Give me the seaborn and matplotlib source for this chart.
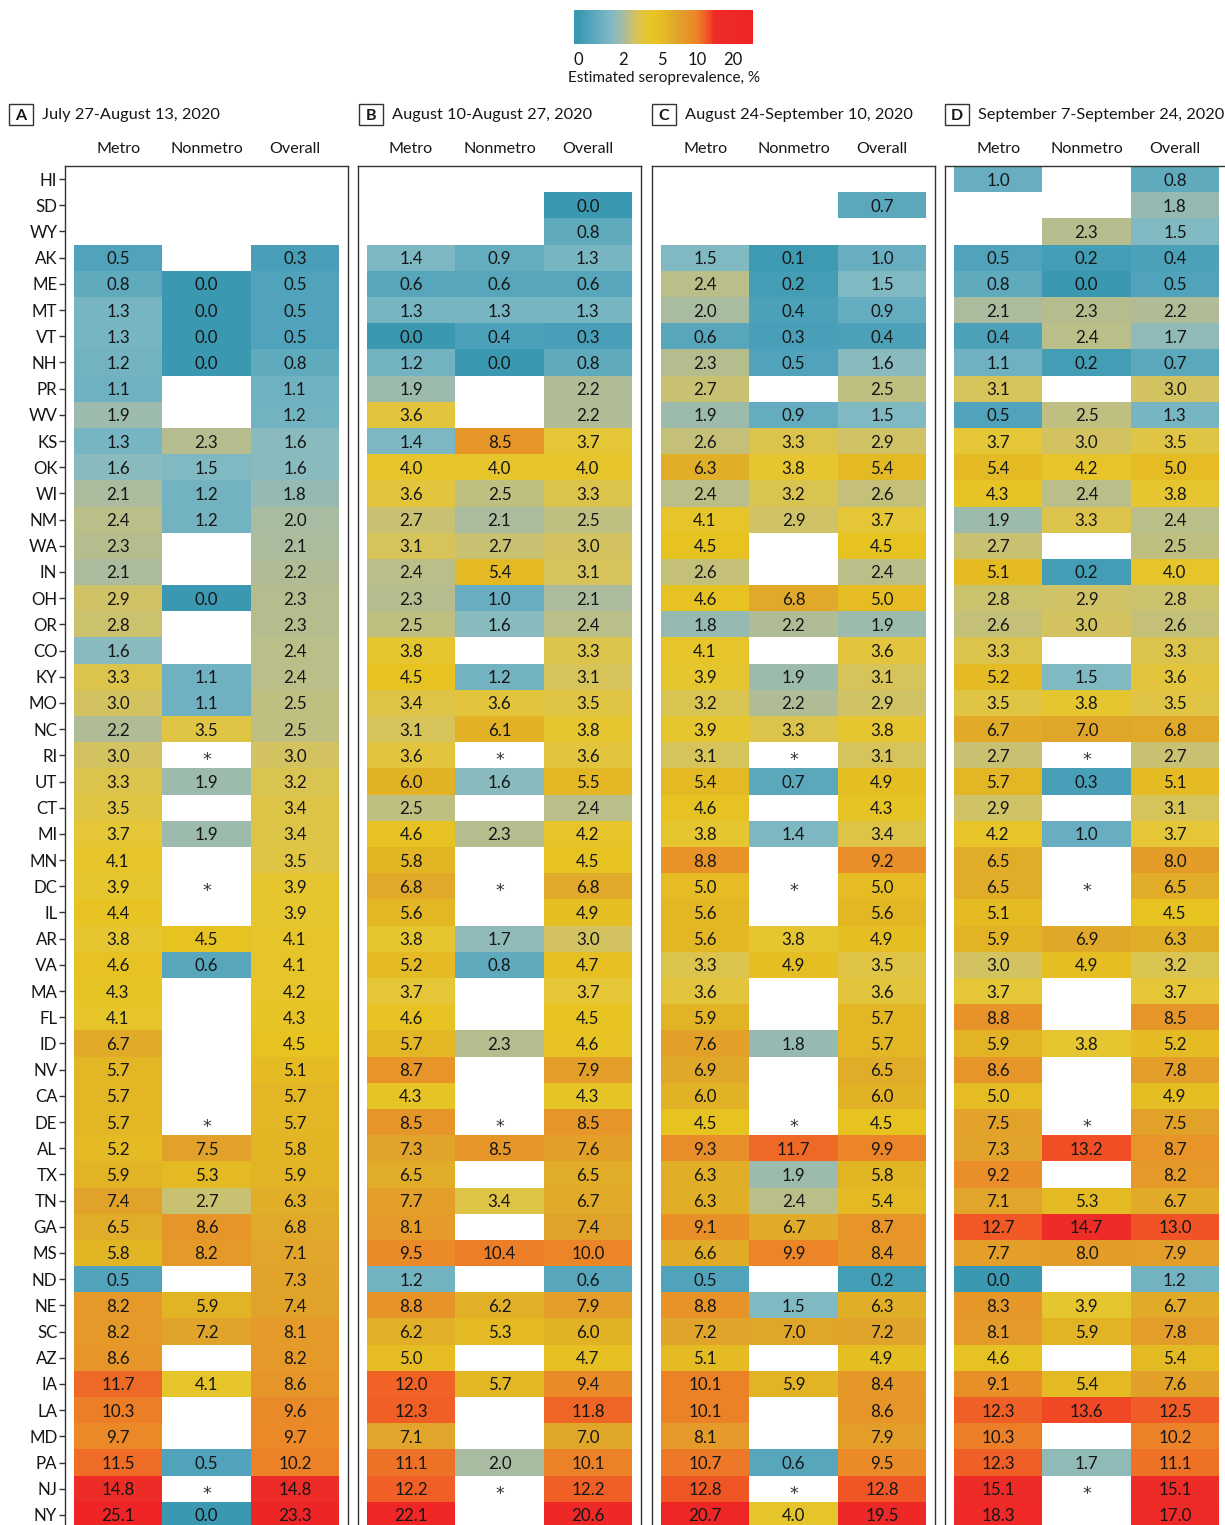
import numpy as np
import pandas as pd
import matplotlib
matplotlib.use("Agg")
import matplotlib.pyplot as plt
import seaborn as sns
from matplotlib.colors import LinearSegmentedColormap, FuncNorm
from matplotlib.patches import Rectangle
from matplotlib.cm import ScalarMappable

N = None
states = ["HI","SD","WY","AK","ME","MT","VT","NH","PR","WV","KS","OK","WI","NM","WA","IN","OH","OR","CO","KY",
          "MO","NC","RI","UT","CT","MI","MN","DC","IL","AR","VA","MA","FL","ID","NV","CA","DE","AL","TX","TN",
          "GA","MS","ND","NE","SC","AZ","IA","LA","MD","PA","NJ","NY"]
columns = ["Metro", "Nonmetro", "Overall"]

a_metro = [N,N,N,0.5,0.8,1.3,1.3,1.2,1.1,1.9,1.3,1.6,2.1,2.4,2.3,2.1,2.9,2.8,1.6,3.3,3.0,2.2,3.0,3.3,3.5,3.7,4.1,3.9,4.4,3.8,4.6,4.3,4.1,6.7,5.7,5.7,5.7,5.2,5.9,7.4,6.5,5.8,0.5,8.2,8.2,8.6,11.7,10.3,9.7,11.5,14.8,25.1]
a_nonmetro = [N,N,N,N,0.0,0.0,0.0,0.0,N,N,2.3,1.5,1.2,1.2,N,N,0.0,N,N,1.1,1.1,3.5,N,1.9,N,1.9,N,N,N,4.5,0.6,N,N,N,N,N,N,7.5,5.3,2.7,8.6,8.2,N,5.9,7.2,N,4.1,N,N,0.5,N,0.0]
a_overall = [N,N,N,0.3,0.5,0.5,0.5,0.8,1.1,1.2,1.6,1.6,1.8,2.0,2.1,2.2,2.3,2.3,2.4,2.4,2.5,2.5,3.0,3.2,3.4,3.4,3.5,3.9,3.9,4.1,4.1,4.2,4.3,4.5,5.1,5.7,5.7,5.8,5.9,6.3,6.8,7.1,7.3,7.4,8.1,8.2,8.6,9.6,9.7,10.2,14.8,23.3]

b_metro = [N,N,N,1.4,0.6,1.3,0.0,1.2,1.9,3.6,1.4,4.0,3.6,2.7,3.1,2.4,2.3,2.5,3.8,4.5,3.4,3.1,3.6,6.0,2.5,4.6,5.8,6.8,5.6,3.8,5.2,3.7,4.6,5.7,8.7,4.3,8.5,7.3,6.5,7.7,8.1,9.5,1.2,8.8,6.2,5.0,12.0,12.3,7.1,11.1,12.2,22.1]
b_nonmetro = [N,N,N,0.9,0.6,1.3,0.4,0.0,N,N,8.5,4.0,2.5,2.1,2.7,5.4,1.0,1.6,N,1.2,3.6,6.1,N,1.6,N,2.3,N,N,N,1.7,0.8,N,N,2.3,N,N,N,8.5,N,3.4,N,10.4,N,6.2,5.3,N,5.7,N,N,2.0,N,N]
b_overall = [N,0.0,0.8,1.3,0.6,1.3,0.3,0.8,2.2,2.2,3.7,4.0,3.3,2.5,3.0,3.1,2.1,2.4,3.3,3.1,3.5,3.8,3.6,5.5,2.4,4.2,4.5,6.8,4.9,3.0,4.7,3.7,4.5,4.6,7.9,4.3,8.5,7.6,6.5,6.7,7.4,10.0,0.6,7.9,6.0,4.7,9.4,11.8,7.0,10.1,12.2,20.6]

c_metro = [N,N,N,1.5,2.4,2.0,0.6,2.3,2.7,1.9,2.6,6.3,2.4,4.1,4.5,2.6,4.6,1.8,4.1,3.9,3.2,3.9,3.1,5.4,4.6,3.8,8.8,5.0,5.6,5.6,3.3,3.6,5.9,7.6,6.9,6.0,4.5,9.3,6.3,6.3,9.1,6.6,0.5,8.8,7.2,5.1,10.1,10.1,8.1,10.7,12.8,20.7]
c_nonmetro = [N,N,N,0.1,0.2,0.4,0.3,0.5,N,0.9,3.3,3.8,3.2,2.9,N,N,6.8,2.2,N,1.9,2.2,3.3,N,0.7,N,1.4,N,N,N,3.8,4.9,N,N,1.8,N,N,N,11.7,1.9,2.4,6.7,9.9,N,1.5,7.0,N,5.9,N,N,0.6,N,4.0]
c_overall = [N,0.7,N,1.0,1.5,0.9,0.4,1.6,2.5,1.5,2.9,5.4,2.6,3.7,4.5,2.4,5.0,1.9,3.6,3.1,2.9,3.8,3.1,4.9,4.3,3.4,9.2,5.0,5.6,4.9,3.5,3.6,5.7,5.7,6.5,6.0,4.5,9.9,5.8,5.4,8.7,8.4,0.2,6.3,7.2,4.9,8.4,8.6,7.9,9.5,12.8,19.5]

d_metro = [1.0,N,N,0.5,0.8,2.1,0.4,1.1,3.1,0.5,3.7,5.4,4.3,1.9,2.7,5.1,2.8,2.6,3.3,5.2,3.5,6.7,2.7,5.7,2.9,4.2,6.5,6.5,5.1,5.9,3.0,3.7,8.8,5.9,8.6,5.0,7.5,7.3,9.2,7.1,12.7,7.7,0.0,8.3,8.1,4.6,9.1,12.3,10.3,12.3,15.1,18.3]
d_nonmetro = [N,N,2.3,0.2,0.0,2.3,2.4,0.2,N,2.5,3.0,4.2,2.4,3.3,N,0.2,2.9,3.0,N,1.5,3.8,7.0,N,0.3,N,1.0,N,N,N,6.9,4.9,N,N,3.8,N,N,N,13.2,N,5.3,14.7,8.0,N,3.9,5.9,N,5.4,13.6,N,1.7,N,N]
d_overall = [0.8,1.8,1.5,0.4,0.5,2.2,1.7,0.7,3.0,1.3,3.5,5.0,3.8,2.4,2.5,4.0,2.8,2.6,3.3,3.6,3.5,6.8,2.7,5.1,3.1,3.7,8.0,6.5,4.5,6.3,3.2,3.7,8.5,5.2,7.8,4.9,7.5,8.7,8.2,6.7,13.0,7.9,1.2,6.7,7.8,5.4,7.6,12.5,10.2,11.1,15.1,17.0]

star_states = ["RI", "DC", "DE", "NJ"]   # Nonmetro cells shown as "*"
panel_letters = ["A", "B", "C", "D"]
panel_titles = ["July 27-August 13, 2020", "August 10-August 27, 2020",
                "August 24-September 10, 2020", "September 7-September 24, 2020"]
cbar_ticks = [0, 2, 5, 10, 20]
cbar_label = "Estimated seroprevalence, %"

panels = [(a_metro, a_nonmetro, a_overall), (b_metro, b_nonmetro, b_overall),
          (c_metro, c_nonmetro, c_overall), (d_metro, d_nonmetro, d_overall)]
for p in panels:
    for col in p:
        assert len(col) == len(states), len(col)

# ---- colour scale (non-linear, like the reference colour bar) ----
scale_v = np.array([-0.4, 0, 2, 5, 10, 20, 25.1])
scale_p = np.array([0, 4, 49, 88, 123, 159, 179]) / 179.0

def fwd(v):
    return np.interp(np.asarray(v, dtype=float), scale_v, scale_p)

def inv(p):
    return np.interp(np.asarray(p, dtype=float), scale_p, scale_v)

norm = FuncNorm((fwd, inv), vmin=-0.4, vmax=25.1)
stops = [(-0.4, "#3a98b1"), (0.0, "#3a98b1"), (0.5, "#52a4bb"), (1.0, "#6aafc0"), (1.5, "#82b9c3"),
         (1.9, "#9ebbac"), (2.3, "#b6bd8e"), (2.8, "#cdc26c"), (3.3, "#dcc44c"), (3.8, "#e6c630"),
         (4.5, "#e7c322"), (5.5, "#e3b824"), (7.0, "#e0a62a"), (8.5, "#e69628"), (10.0, "#ec8428"),
         (11.5, "#ef6c26"), (12.5, "#f05c25"), (13.6, "#f04a25"), (14.8, "#ee2c27"), (25.1, "#ee2426")]
cmap = LinearSegmentedColormap.from_list("sero", [(float(fwd(v)), c) for v, c in stops])

# ---- figure ----
sns.set_theme(style="white")
plt.rcParams["font.family"] = ["Lato", "DejaVu Sans"]
TXT = "#161616"
W, H = 1225, 1525
fig = plt.figure(figsize=(W / 100, H / 100), dpi=100)

def fx(x):
    return x / W

def fy(y):
    return 1 - y / H

ax_left = [65, 358, 652, 945]
ax_w = 283
ax_top, ax_bot = 166, 1528
box_left = [9, 359, 652, 945]

for i, (m, n, o) in enumerate(panels):
    ax = fig.add_axes([fx(ax_left[i]), fy(ax_bot), ax_w / W, (ax_bot - ax_top) / H])
    df = pd.DataFrame({"Metro": m, "Nonmetro": n, "Overall": o}, index=states).astype(float)
    sns.heatmap(df, ax=ax, cmap=cmap, norm=norm, cbar=False, annot=True, fmt=".1f",
                annot_kws=dict(color=TXT, fontsize=12.2, va="center_baseline"),
                xticklabels=True, yticklabels=(i == 0))
    for s in star_states:
        r = states.index(s)
        ax.text(1.5, r + 0.88, "*", ha="center", va="baseline", fontsize=12.5,
                family="DejaVu Sans", color="#333333")
    ax.set_xlim(-0.1, 3.1)
    ax.set_ylim(len(states), 0)
    for sp in ax.spines.values():
        sp.set_visible(True)
        sp.set_color("#333333")
        sp.set_linewidth(1.0)
    ax.xaxis.set_ticks_position("top")
    ax.tick_params(axis="x", length=0, pad=7, labelsize=11.6, labelcolor=TXT,
                   labeltop=True, labelbottom=False)
    plt.setp(ax.get_xticklabels(), rotation=0)
    if i == 0:
        ax.tick_params(axis="y", left=True, length=4.5, width=1, color="#333333", pad=1,
                       labelsize=12.2, labelcolor=TXT)
        plt.setp(ax.get_yticklabels(), rotation=0, va="center_baseline")
    else:
        ax.tick_params(axis="y", left=False, labelleft=False)
    ax.set_xlabel("")
    ax.set_ylabel("")

    # panel letter box and title
    bx = box_left[i]
    fig.patches.append(Rectangle((fx(bx), fy(125)), 24 / W, 21 / H, transform=fig.transFigure,
                                 fill=False, edgecolor="#333333", linewidth=1.0))
    fig.text(fx(bx + 12), fy(114.5), panel_letters[i], ha="center", va="center_baseline",
             fontsize=11.5, fontweight="bold", color=TXT)
    fig.text(fx(bx + 33), fy(113), panel_titles[i], ha="left", va="center_baseline",
             fontsize=11.8, color=TXT)

# ---- colour bar ----
cax = fig.add_axes([fx(574), fy(44), 179 / W, 34 / H])
sm = ScalarMappable(norm=norm, cmap=cmap)
cb = fig.colorbar(sm, cax=cax, orientation="horizontal", ticks=cbar_ticks)
cb.outline.set_visible(False)
cb.minorticks_off()
cax.tick_params(axis="x", direction="in", length=4, width=1, color="white", top=True, bottom=True,
                labelsize=12, labelcolor=TXT, pad=6)
cb.set_ticklabels([str(t) for t in cbar_ticks])
cb.set_label(cbar_label, fontsize=11, color=TXT, labelpad=2)

fig.savefig("out.png", dpi=100)
